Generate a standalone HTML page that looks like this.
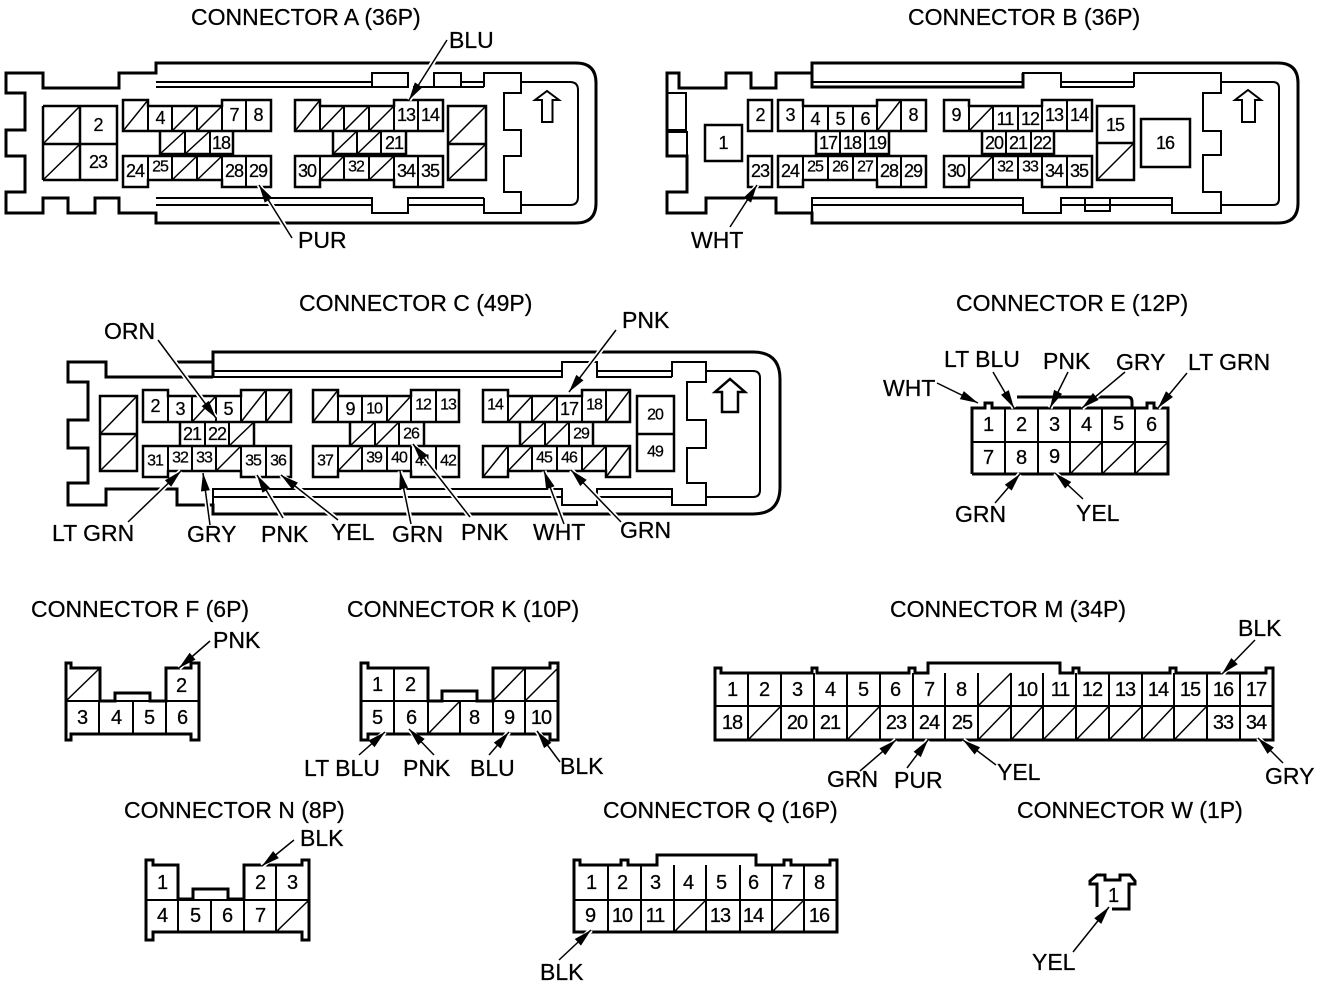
<!DOCTYPE html>
<html><head><meta charset="utf-8"><style>
html,body{margin:0;padding:0;background:#fff}
svg{display:block}
text{font-family:"Liberation Sans",sans-serif;fill:#000;dominant-baseline:central;stroke:#000;stroke-width:.25}
.l{font-size:23px}
.p text{font-size:18px;letter-spacing:-1px;text-anchor:middle}
.p text.q{font-size:16px}
.r text{font-size:20px;letter-spacing:-1px;text-anchor:middle}
.o{fill:none;stroke:#000;stroke-width:3;stroke-linejoin:miter}
.c{fill:none;stroke:#000;stroke-width:2.5}
.d{fill:none;stroke:#000;stroke-width:2}
.s{fill:none;stroke:#000;stroke-width:1.5}
.h line{stroke:#fff;stroke-width:5}
.a line{stroke:#000;stroke-width:1.5;marker-end:url(#m)}
</style></head><body>
<svg width="1328" height="986" viewBox="0 0 1328 986" xmlns="http://www.w3.org/2000/svg">
<defs><marker id="m" markerUnits="userSpaceOnUse" markerWidth="20" markerHeight="10" refX="19" refY="5" orient="auto"><path d="M1 .5L19 5L1 9.500Z" fill="#000"/></marker></defs>

<!-- Connector A -->
<path class="o" d="M6 73H43V88H119V73H156V63H576Q596 63 596 83V203Q596 223 576 223H156V213H119V198H95V213H68V198H43V213H6V192H25V156H6V130H25V93H6Z"/>
<path class="d" d="M156 82H372M156 87H372M372 73H408V87H372ZM434 73H461V87H434ZM461 82H484M461 87H484M413 87H434M484 87V73H521V93H504V130H521V156H504V192H521V213H484V198M521 82H570Q578 82 578 90V197Q578 205 570 205H521M156 198H372V213H408V198H484M156 205H372M408 205H484"/>
<path class="d" d="M542 122V100H535L547 91L559 100H552.500V122Z"/>
<path class="c" d="M43 106H117V180H43M43 106V180M80 106V180M43 144H117"/>
<path class="s" d="M43 144L80 106M43 180L80 144"/>
<path class="c" d="M123 100H148V106H222V100H271V131H123ZM160 131V154H233V131M123 156H271V187H222V180H148V187H123Z"/>
<path class="d" d="M148 106V131M172 106V131M197 106V131M222 100V131M246 100V131M185 131V154M210 131V154M148 156V187M172 156V180M197 156V180M222 156V187M246 156V187"/>
<path class="s" d="M123 131L148 100M172 131L197 106M197 131L222 106M160 154L185 131M185 154L210 131M172 180L197 156M197 180L222 156"/>
<path class="c" d="M295 100H320V106H394V100H443V131H295ZM333 131V154H406V131M295 156H443V187H394V180H320V187H295Z"/>
<path class="d" d="M320 100V131M344 106V131M369 106V131M394 100V131M418 100V131M357 131V154M381 131V154M320 156V187M344 156V180M369 156V180M394 156V187M418 156V187"/>
<path class="s" d="M295 131L320 100M320 131L344 106M344 131L369 106M369 131L394 106M333 154L357 131M357 154L381 131M320 180L344 156M369 180L394 156"/>
<path class="c" d="M448 106H486V180H448ZM448 144H486"/>
<path class="s" d="M448 144L486 106M448 180L486 144"/>
<g class="p"><text x="98" y="125">2</text><text x="98" y="162">23</text><text x="160" y="118">4</text><text x="234" y="115">7</text><text x="258" y="115">8</text><text x="221" y="143">18</text><text x="135" y="171">24</text><text class="q" x="160" y="167">25</text><text x="234" y="171">28</text><text x="258" y="171">29</text><text x="406" y="115">13</text><text x="430" y="115">14</text><text x="394" y="143">21</text><text x="307" y="171">30</text><text class="q" x="356" y="167">32</text><text x="406" y="171">34</text><text x="430" y="171">35</text></g>

<!-- Connector B -->
<path class="o" d="M667 73H679V88H726V73H751V88H776V73H812V63H1278Q1298 63 1298 83V203Q1298 223 1278 223H812V213H776V198H706V213H667V192H687V156H667ZM812 63V87H1023V73"/>
<path class="d" d="M667 93H686V130H667M667 132H687V156M812 82H1023M1023 87V73H1061V87H1134M1061 82H1134M1134 87V73H1221V93H1203V131H1221V155H1203V192H1221V213H1172V198H1061V213H1023V198H812V213M812 205H1023M1061 205H1172M1085 198V211H1110V198M1221 82H1273Q1279 82 1279 88V199Q1279 205 1273 205H1221"/>
<path class="d" d="M1242 122V100H1235L1248 90L1261 100H1255V122Z"/>
<path class="c" d="M705 125H742V161H705ZM748 100H772V131H748ZM748 156H772V187H748ZM778 100H803V106H877V100H926V131H778ZM816 131V154H889V131M778 156H926V187H877V180H803V187H778Z"/>
<path class="d" d="M803 100V131M828 106V131M853 106V131M877 100V131M901 100V131M840 131V154M865 131V154M803 156V187M828 156V180M853 156V180M877 156V187M901 156V187"/>
<path class="s" d="M877 131L901 100"/>
<path class="c" d="M944 100H969V106H1042V100H1092V131H944ZM982 131V154H1054V131M944 156H1092V187H1042V180H969V187H944Z"/>
<path class="d" d="M969 100V131M993 106V131M1018 106V131M1042 100V131M1067 100V131M1006 131V154M1031 131V154M969 156V187M993 156V180M1018 156V180M1042 156V187M1067 156V187"/>
<path class="s" d="M969 131L993 106M969 180L993 156"/>
<path class="c" d="M1097 106H1134V180H1097ZM1097 143H1134M1141 119H1190V167H1141Z"/>
<path class="s" d="M1097 180L1134 143"/>
<g class="p"><text x="723" y="143">1</text><text x="760" y="115">2</text><text x="790" y="115">3</text><text x="815" y="119">4</text><text x="840" y="119">5</text><text x="865" y="119">6</text><text x="913" y="115">8</text><text x="828" y="143">17</text><text x="852" y="143">18</text><text x="877" y="143">19</text><text x="760" y="171">23</text><text x="790" y="171">24</text><text class="q" x="815" y="167">25</text><text class="q" x="840" y="167">26</text><text class="q" x="865" y="167">27</text><text x="889" y="171">28</text><text x="913" y="171">29</text><text x="956" y="115">9</text><text x="1005" y="119">11</text><text x="1030" y="119">12</text><text x="1054" y="115">13</text><text x="1079" y="115">14</text><text x="994" y="143">20</text><text x="1018" y="143">21</text><text x="1042" y="143">22</text><text x="956" y="171">30</text><text class="q" x="1005" y="167">32</text><text class="q" x="1030" y="167">33</text><text x="1054" y="171">34</text><text x="1079" y="171">35</text><text x="1115" y="125">15</text><text x="1165" y="143">16</text></g>

<!-- Connector C -->
<path class="o" d="M177 362H213V352H753Q780 352 780 379V487Q780 514 753 514H213V505H177V489H106V505H68V483H88V448H68V420H88V382H68V362H106V377H213M213 352V377"/>
<path class="d" d="M213 371H562M213 377H562V362H597V377H672M597 371H672M672 377V362H706V382H687V420H706V448H687V483H706V505H672V489H597V505H562V489H213V505M213 497H562M597 497H672M706 371H753Q760 371 760 378V490Q760 497 753 497H706"/>
<path class="c" d="M722 412V392H715L730 379L745 392H738V412Z"/>
<path class="c" d="M100 396H137V471H100ZM100 434H137"/>
<path class="s" d="M100 434L137 396M100 471L137 434"/>
<path class="c" d="M143 390H168V396H241V390H291V422H143ZM180 422V446H254V422M143 446H291V477H241V471H168V477H143Z"/>
<path class="d" d="M168 390V422M192 396V422M216 396V422M241 390V422M266 390V422M205 422V446M229 422V446M168 446V477M192 446V471M216 446V471M241 446V477M266 446V477"/>
<path class="s" d="M192 422L216 396M241 422L266 390M266 422L291 390M229 446L254 422M216 471L241 446"/>
<path class="c" d="M313 390H338V396H411V390H459V422H313ZM350 422V446H424V422M313 446H459V477H411V471H338V477H313Z"/>
<path class="d" d="M338 390V422M362 396V422M387 396V422M411 390V422M436 390V422M375 422V446M399 422V446M338 446V477M362 446V471M387 446V471M411 446V477M436 446V477"/>
<path class="s" d="M313 422L338 390M387 422L411 396M350 446L375 422M375 446L399 422M338 471L362 446"/>
<path class="c" d="M483 390H508V396H582V390H630V422H483ZM520 422V446H593V422M483 446H630V477H606V471H508V477H483Z"/>
<path class="d" d="M508 390V422M532 396V422M557 396V422M582 390V422M606 390V422M545 422V446M569 422V446M508 446V477M532 446V471M557 446V471M582 446V471M606 446V477"/>
<path class="s" d="M508 422L532 396M532 422L557 396M606 422L630 390M520 446L545 422M545 446L569 422M483 477L508 446M508 471L532 446M582 471L606 446M606 477L630 446"/>
<path class="c" d="M637 396H674V471H637ZM637 434H674"/>
<g class="p"><text x="155" y="406">2</text><text x="180" y="409">3</text><text x="228" y="409">5</text><text x="192" y="434">21</text><text x="217" y="434">22</text><text class="q" x="155" y="461">31</text><text class="q" x="180" y="458">32</text><text class="q" x="204" y="458">33</text><text class="q" x="253" y="461">35</text><text class="q" x="278" y="461">36</text><text x="350" y="409">9</text><text class="q" x="374" y="409">10</text><text class="q" x="423" y="405">12</text><text class="q" x="448" y="405">13</text><text class="q" x="411" y="434">26</text><text class="q" x="325" y="461">37</text><text class="q" x="374" y="458">39</text><text class="q" x="399" y="458">40</text><text class="q" x="423" y="461">41</text><text class="q" x="448" y="461">42</text><text class="q" x="495" y="405">14</text><text x="569" y="409">17</text><text class="q" x="594" y="405">18</text><text class="q" x="581" y="434">29</text><text class="q" x="544" y="458">45</text><text class="q" x="569" y="458">46</text><text class="q" x="655" y="415">20</text><text class="q" x="655" y="452">49</text></g>

<!-- Connector E -->
<path class="o" d="M972 474V408H985V403H992V408H1132V402Q1132 397 1128 397H1017M1132 408H1147V403H1154V408H1168V474H972"/>
<path class="d" d="M1005 408V474M1038 408V474M1070 408V474M1102 408V474M1135 408V474M972 442H1168"/>
<path class="s" d="M1070 474L1102 442M1102 474L1135 442M1135 474L1168 442"/>
<g class="r"><text x="988" y="425">1</text><text x="1021" y="425">2</text><text x="1054" y="425">3</text><text x="1086" y="425">4</text><text x="1118" y="424">5</text><text x="1151" y="425">6</text><text x="988" y="458">7</text><text x="1021" y="458">8</text><text x="1054" y="457">9</text></g>

<!-- Connector F -->
<path class="o" d="M66 663H71V668H100V701H115V693H150V701H166V668H191V663H199V740H191V734H71V740H66Z"/>
<path class="d" d="M66 701H199M99 701V734M133 701V734M166 701V734"/>
<path class="s" d="M66 701L100 668"/>
<g class="r"><text x="181" y="686">2</text><text x="82" y="718">3</text><text x="116" y="718">4</text><text x="149" y="718">5</text><text x="182" y="718">6</text></g>

<!-- Connector K -->
<path class="o" d="M368 740H361V663H368V668H428V701H442V691H477V701H493V668H550V663H558V740H550V734H368Z"/>
<path class="d" d="M361 701H558M394 668V734M428 701V734M460 701V734M493 701V734M525 668V734"/>
<path class="s" d="M493 701L525 668M525 701L558 668M428 734L460 701"/>
<g class="r"><text x="377" y="685">1</text><text x="410" y="685">2</text><text x="377" y="718">5</text><text x="411" y="718">6</text><text x="474" y="718">8</text><text x="509" y="718">9</text><text x="541" y="718">10</text></g>

<!-- Connector M -->
<path class="o" d="M715 740V668H721V673H812V668H817V673H909V668H915V673H928V663H1060V673H1073V668H1079V673H1170V668H1176V673H1266V668H1273V740Z"/>
<path class="d" d="M715 706H1273M748 673V740M781 673V740M814 673V740M847 673V740M880 673V740M913 673V740M945 673V740M978 673V740M1011 673V740M1043 673V740M1076 673V740M1109 673V740M1142 673V740M1174 673V740M1207 673V740M1240 673V740"/>
<path class="s" d="M978 706L1011 673M748 740L781 706M847 740L880 706M978 740L1011 706M1011 740L1043 706M1043 740L1076 706M1076 740L1109 706M1109 740L1142 706M1142 740L1174 706M1174 740L1207 706"/>
<g class="r"><text x="732" y="690">1</text><text x="764" y="690">2</text><text x="797" y="690">3</text><text x="830" y="690">4</text><text x="863" y="690">5</text><text x="895" y="690">6</text><text x="929" y="690">7</text><text x="961" y="690">8</text><text x="1027" y="690">10</text><text x="1060" y="690">11</text><text x="1092" y="690">12</text><text x="1125" y="690">13</text><text x="1158" y="690">14</text><text x="1190" y="690">15</text><text x="1223" y="690">16</text><text x="1256" y="690">17</text><text x="732" y="723">18</text><text x="797" y="723">20</text><text x="830" y="723">21</text><text x="896" y="723">23</text><text x="929" y="723">24</text><text x="962" y="723">25</text><text x="1223" y="723">33</text><text x="1256" y="723">34</text></g>

<!-- Connector N -->
<path class="o" d="M146 860H153V865H178V899H193V889H228V899H244V865H302V860H309V940H302V932H153V940H146Z"/>
<path class="d" d="M146 900H309M178 899V932M211 899V932M244 865V932M276 865V932"/>
<path class="s" d="M276 932L309 900"/>
<g class="r"><text x="162" y="883">1</text><text x="260" y="883">2</text><text x="292" y="883">3</text><text x="162" y="916">4</text><text x="195" y="916">5</text><text x="227" y="916">6</text><text x="260" y="916">7</text></g>

<!-- Connector Q -->
<path class="o" d="M574 932V860H580V865H621V860H628V865H657V855H756V865H784V860H791V865H830V860H837V932Z"/>
<path class="d" d="M574 900H837M608 865V932M641 865V932M674 865V932M706 865V932M740 865V932M772 865V932M804 865V932"/>
<path class="s" d="M674 932L706 900M772 932L804 900"/>
<g class="r"><text x="591" y="883">1</text><text x="622" y="883">2</text><text x="655" y="883">3</text><text x="688" y="883">4</text><text x="721" y="883">5</text><text x="753" y="883">6</text><text x="787" y="883">7</text><text x="819" y="883">8</text><text x="590" y="916">9</text><text x="622" y="916">10</text><text x="655" y="916">11</text><text x="720" y="916">13</text><text x="753" y="916">14</text><text x="819" y="916">16</text></g>

<!-- Connector W -->
<path class="o" d="M1097 907V884H1090V881L1097 875H1105V880H1120V875H1130L1135 881V884H1129V909H1112"/>
<g class="r"><text x="1113" y="896">1</text></g>

<!-- Leader halos -->
<g class="h">
<line x1="447" y1="40" x2="409" y2="100"/><line x1="292" y1="238" x2="259" y2="185"/>
<line x1="730" y1="227" x2="757" y2="185"/>
<line x1="158" y1="340" x2="216" y2="418"/><line x1="616" y1="330" x2="569" y2="392"/>
<line x1="128" y1="522" x2="181" y2="471"/><line x1="210" y1="525" x2="203" y2="473"/>
<line x1="283" y1="518" x2="257" y2="475"/><line x1="338" y1="520" x2="281" y2="475"/>
<line x1="411" y1="524" x2="400" y2="471"/><line x1="470" y1="517" x2="413" y2="444"/>
<line x1="564" y1="524" x2="544" y2="471"/><line x1="621" y1="522" x2="571" y2="470"/>
<line x1="937" y1="383" x2="978" y2="403"/><line x1="993" y1="372" x2="1014" y2="408"/>
<line x1="1068" y1="372" x2="1050" y2="408"/><line x1="1125" y1="372" x2="1082" y2="408"/>
<line x1="1187" y1="373" x2="1158" y2="408"/><line x1="995" y1="503" x2="1020" y2="474"/>
<line x1="1083" y1="499" x2="1055" y2="473"/>
<line x1="210" y1="641" x2="179" y2="668"/>
<line x1="359" y1="755" x2="385" y2="732"/><line x1="434" y1="755" x2="409" y2="729"/>
<line x1="489" y1="755" x2="509" y2="732"/><line x1="560" y1="762" x2="537" y2="731"/>
<line x1="1255" y1="640" x2="1222" y2="674"/><line x1="860" y1="771" x2="896" y2="740"/>
<line x1="907" y1="768" x2="928" y2="740"/><line x1="996" y1="765" x2="963" y2="740"/>
<line x1="1283" y1="763" x2="1258" y2="738"/>
<line x1="294" y1="840" x2="262" y2="866"/><line x1="559" y1="960" x2="591" y2="930"/>
<line x1="1073" y1="952" x2="1109" y2="907"/>
</g>
<!-- Leader arrows -->
<g class="a">
<line x1="447" y1="40" x2="409" y2="100"/><line x1="292" y1="238" x2="259" y2="185"/>
<line x1="730" y1="227" x2="757" y2="185"/>
<line x1="158" y1="340" x2="216" y2="418"/><line x1="616" y1="330" x2="569" y2="392"/>
<line x1="128" y1="522" x2="181" y2="471"/><line x1="210" y1="525" x2="203" y2="473"/>
<line x1="283" y1="518" x2="257" y2="475"/><line x1="338" y1="520" x2="281" y2="475"/>
<line x1="411" y1="524" x2="400" y2="471"/><line x1="470" y1="517" x2="413" y2="444"/>
<line x1="564" y1="524" x2="544" y2="471"/><line x1="621" y1="522" x2="571" y2="470"/>
<line x1="937" y1="383" x2="978" y2="403"/><line x1="993" y1="372" x2="1014" y2="408"/>
<line x1="1068" y1="372" x2="1050" y2="408"/><line x1="1125" y1="372" x2="1082" y2="408"/>
<line x1="1187" y1="373" x2="1158" y2="408"/><line x1="995" y1="503" x2="1020" y2="474"/>
<line x1="1083" y1="499" x2="1055" y2="473"/>
<line x1="210" y1="641" x2="179" y2="668"/>
<line x1="359" y1="755" x2="385" y2="732"/><line x1="434" y1="755" x2="409" y2="729"/>
<line x1="489" y1="755" x2="509" y2="732"/><line x1="560" y1="762" x2="537" y2="731"/>
<line x1="1255" y1="640" x2="1222" y2="674"/><line x1="860" y1="771" x2="896" y2="740"/>
<line x1="907" y1="768" x2="928" y2="740"/><line x1="996" y1="765" x2="963" y2="740"/>
<line x1="1283" y1="763" x2="1258" y2="738"/>
<line x1="294" y1="840" x2="262" y2="866"/><line x1="559" y1="960" x2="591" y2="930"/>
<line x1="1073" y1="952" x2="1109" y2="907"/>
</g>

<!-- Labels -->
<g>
<text class="l" x="191" y="17">CONNECTOR A (36P)</text>
<text class="l" x="908" y="17">CONNECTOR B (36P)</text>
<text class="l" x="299" y="303">CONNECTOR C (49P)</text>
<text class="l" x="956" y="303">CONNECTOR E (12P)</text>
<text class="l" x="31" y="609">CONNECTOR F (6P)</text>
<text class="l" x="347" y="609">CONNECTOR K (10P)</text>
<text class="l" x="890" y="609">CONNECTOR M (34P)</text>
<text class="l" x="124" y="810">CONNECTOR N (8P)</text>
<text class="l" x="603" y="810">CONNECTOR Q (16P)</text>
<text class="l" x="1017" y="810">CONNECTOR W (1P)</text>
<text class="l" x="449" y="40">BLU</text><text class="l" x="298" y="240">PUR</text><text class="l" x="691" y="240">WHT</text>
<text class="l" x="104" y="331">ORN</text><text class="l" x="622" y="320">PNK</text><text class="l" x="52" y="533">LT GRN</text><text class="l" x="187" y="534">GRY</text><text class="l" x="261" y="534">PNK</text><text class="l" x="331" y="532">YEL</text><text class="l" x="392" y="534">GRN</text><text class="l" x="461" y="532">PNK</text><text class="l" x="533" y="532">WHT</text><text class="l" x="620" y="530">GRN</text>
<text class="l" x="883" y="388">WHT</text><text class="l" x="944" y="359">LT BLU</text><text class="l" x="1043" y="361">PNK</text><text class="l" x="1116" y="362">GRY</text><text class="l" x="1188" y="362">LT GRN</text><text class="l" x="955" y="514">GRN</text><text class="l" x="1076" y="513">YEL</text>
<text class="l" x="213" y="640">PNK</text>
<text class="l" x="304" y="768">LT BLU</text><text class="l" x="403" y="768">PNK</text><text class="l" x="470" y="768">BLU</text><text class="l" x="560" y="766">BLK</text>
<text class="l" x="1238" y="628">BLK</text><text class="l" x="827" y="779">GRN</text><text class="l" x="894" y="780">PUR</text><text class="l" x="997" y="772">YEL</text><text class="l" x="1265" y="776">GRY</text>
<text class="l" x="300" y="838">BLK</text><text class="l" x="540" y="972">BLK</text><text class="l" x="1032" y="962">YEL</text>
</g>
</svg>
</body></html>
